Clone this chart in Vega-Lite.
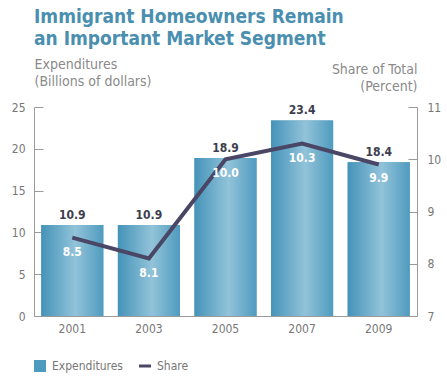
{
  "$schema": "https://vega.github.io/schema/vega-lite/v6.json",
  "width": 383,
  "height": 209,
  "autosize": "none",
  "padding": {"left": 34, "top": 107, "right": 30, "bottom": 69},
  "background": "white",
  "config": {
    "view": {"stroke": null},
    "font": "DejaVu Sans Condensed, sans-serif"
  },
  "title": {
    "text": ["Immigrant Homeowners Remain", "an Important Market Segment"],
    "anchor": "start",
    "frame": "group",
    "orient": "top",
    "fontSize": 19,
    "fontWeight": "bold",
    "color": "#4a8fb0",
    "lineHeight": 22,
    "offset": 8,
    "font": "DejaVu Sans Condensed, sans-serif"
  },
  "data": {
    "values": [
      {"year": "2001", "expenditures": 10.9, "share": 8.5},
      {"year": "2003", "expenditures": 10.9, "share": 8.1},
      {"year": "2005", "expenditures": 18.9, "share": 10.0},
      {"year": "2007", "expenditures": 23.4, "share": 10.3},
      {"year": "2009", "expenditures": 18.4, "share": 9.9}
    ]
  },
  "encoding": {
    "x": {
      "field": "year",
      "type": "ordinal",
      "scale": {"paddingInner": 0.19, "paddingOuter": 0.095},
      "axis": {
        "title": null,
        "labelAngle": 0,
        "ticks": false,
        "domainColor": "#9a9a9a",
        "labelColor": "#777777",
        "labelFontSize": 12,
        "labelPadding": 7
      }
    }
  },
  "layer": [
    {
      "encoding": {
        "y": {
          "field": "expenditures",
          "type": "quantitative",
          "scale": {"domain": [0, 25]},
          "axis": {
            "values": [0, 5, 10, 15, 20, 25],
            "grid": false,
            "tickSize": -9,
            "tickColor": "#9a9a9a",
            "domainColor": "#9a9a9a",
            "labelColor": "#777777",
            "labelFontSize": 12,
            "labelPadding": 18,
            "title": ["Expenditures", "(Billions of dollars)"],
            "titleAngle": 0,
            "titleAlign": "left",
            "titleBaseline": "alphabetic",
            "titleX": 0,
            "titleY": -39,
            "titleFontSize": 14,
            "titleFontWeight": "normal",
            "titleColor": "#8a8a8a",
            "titleLineHeight": 17
          }
        }
      },
      "layer": [
        {
          "mark": {"type": "bar"},
          "encoding": {
            "color": {
              "datum": "Expenditures",
              "scale": {"domain": ["Expenditures", "Share"], "range": ["#4f9bc0", "#4a4766"]},
              "legend": {
                "title": null,
                "orient": "none",
                "legendX": 0,
                "legendY": 253,
                "direction": "horizontal",
                "symbolSize": 144,
                "symbolStrokeWidth": 0,
                "labelColor": "#777777",
                "labelFontSize": 12,
                "labelOffset": 6,
                "columnPadding": 16,
                "encode": {
                  "symbols": {
                    "update": {
                      "shape": {"signal": "datum.value === 'Share' ? 'M-1,-0.25H1V0.25H-1Z' : 'square'"},
                      "strokeWidth": {"value": 0}
                    }
                  }
                }
              }
            }
          }
        },
        {
          "mark": {
            "type": "bar",
            "fill": {
              "gradient": "linear",
              "x1": 0, "x2": 1, "y1": 0, "y2": 0,
              "stops": [
                {"offset": 0, "color": "#4593b9"},
                {"offset": 0.55, "color": "#92c3d9"},
                {"offset": 1, "color": "#4f9bbf"}
              ]
            }
          }
        },
        {
          "mark": {
            "type": "text",
            "dy": -10,
            "fontWeight": "bold",
            "fontSize": 12,
            "color": "#3d3d4f"
          },
          "encoding": {
            "text": {"field": "expenditures", "type": "quantitative", "format": ".1f"}
          }
        }
      ]
    },
    {
      "encoding": {
        "y": {
          "field": "share",
          "type": "quantitative",
          "scale": {"domain": [7, 11]},
          "axis": {
            "orient": "right",
            "values": [7, 8, 9, 10, 11],
            "grid": false,
            "tickSize": -9,
            "tickColor": "#9a9a9a",
            "domainColor": "#9a9a9a",
            "labelColor": "#777777",
            "labelFontSize": 12,
            "labelPadding": 19,
            "title": ["Share of Total", "(Percent)"],
            "titleAngle": 0,
            "titleAlign": "right",
            "titleBaseline": "alphabetic",
            "titleX": 0,
            "titleY": -34,
            "titleFontSize": 14,
            "titleFontWeight": "normal",
            "titleColor": "#8a8a8a",
            "titleLineHeight": 17
          }
        }
      },
      "layer": [
        {
          "mark": {"type": "line", "strokeWidth": 4, "strokeJoin": "miter"},
          "encoding": {
            "color": {"datum": "Share"}
          }
        },
        {
          "mark": {
            "type": "text",
            "dy": 14,
            "fontWeight": "bold",
            "fontSize": 12,
            "color": "white"
          },
          "encoding": {
            "text": {"field": "share", "type": "quantitative", "format": ".1f"}
          }
        }
      ]
    }
  ],
  "resolve": {"scale": {"y": "independent"}}
}
